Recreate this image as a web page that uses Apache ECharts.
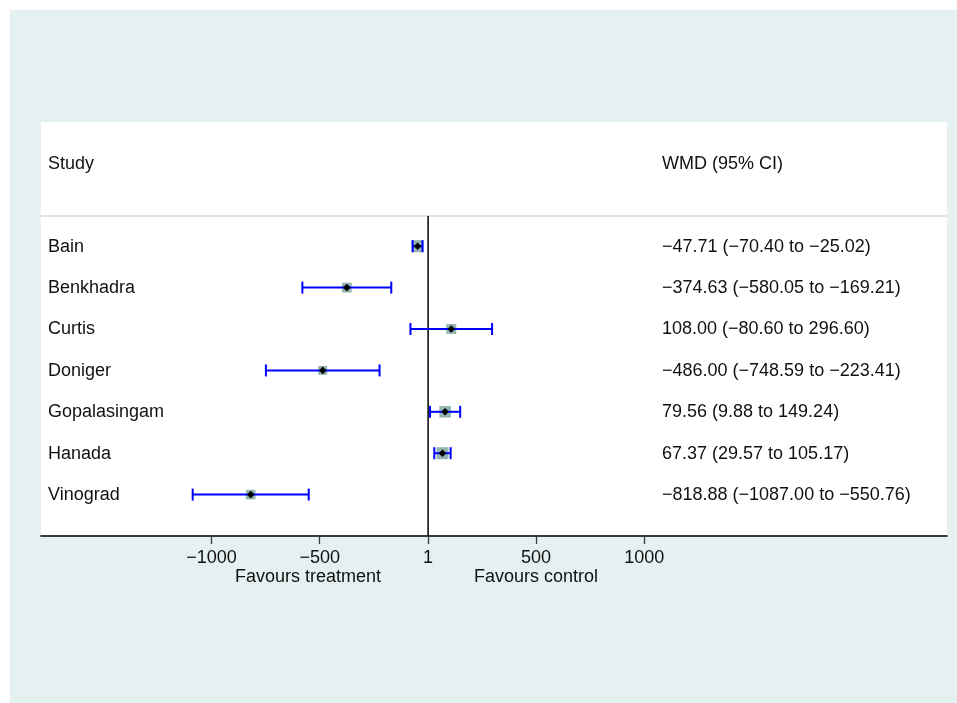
<!DOCTYPE html>
<html>
<head>
<meta charset="utf-8">
<script src="https://cdn.jsdelivr.net/npm/echarts@6/dist/echarts.min.js"></script>
<style>
html,body{margin:0;padding:0;background:#ffffff;}
#bg{position:absolute;left:10px;top:10px;width:947px;height:693px;background:#e5f0f0;}
#chart{position:absolute;left:0;top:0;width:957px;height:703px;}
</style>
</head>
<body>
<div id="bg"></div>
<div id="chart"></div>
<script>
// ---- data ----
const studies = ['Bain','Benkhadra','Curtis','Doniger','Gopalasingam','Hanada','Vinograd'];
const wmd   = [-47.71, -374.63, 108.00, -486.00, 79.56, 67.37, -818.88];
const lower = [-70.40, -580.05, -80.60, -748.59, 9.88, 29.57, -1087.00];
const upper = [-25.02, -169.21, 296.60, -223.41, 149.24, 105.17, -550.76];
const weights = [19.5, 12.5, 13.0, 10.5, 17.5, 19.0, 12.0]; // estimated relative weights (box size)
const tickValues = [-1000, -500, 1, 500, 1000];
const headerLeft = 'Study';
const headerRight = 'WMD (95% CI)';
const favoursLeft = 'Favours treatment';
const favoursRight = 'Favours control';

// ---- helpers ----
const FONT = '"Liberation Sans", Arial, Helvetica, sans-serif';
const TXT = '#111111';
const fmt = v => v.toFixed(2).replace('-', '\u2212');
const ciText = studies.map((s, i) => fmt(wmd[i]) + ' (' + fmt(lower[i]) + ' to ' + fmt(upper[i]) + ')');

const rowData = studies.map((s, i) => [i, wmd[i], lower[i], upper[i], weights[i]]);
const textData = [[-2, headerLeft, headerRight]].concat(studies.map((s, i) => [i, s, ciText[i]]));

function renderRow(params, api) {
  const i = api.value(0);
  const pE = api.coord([api.value(1), i]);
  const pL = api.coord([api.value(2), i]);
  const pH = api.coord([api.value(3), i]);
  const y = pE[1];
  const side = 2.75 * Math.sqrt(api.value(4));
  const cap = 6, d = 3.8;
  return {
    type: 'group',
    children: [
      {type: 'rect', shape: {x: pE[0] - side / 2, y: y - side / 2, width: side, height: side}, style: {fill: '#93b4b1'}},
      {type: 'line', shape: {x1: pL[0], y1: y, x2: pH[0], y2: y}, style: {stroke: '#0000ff', lineWidth: 2}},
      {type: 'line', shape: {x1: pL[0], y1: y - cap, x2: pL[0], y2: y + cap}, style: {stroke: '#0000ff', lineWidth: 2}},
      {type: 'line', shape: {x1: pH[0], y1: y - cap, x2: pH[0], y2: y + cap}, style: {stroke: '#0000ff', lineWidth: 2}},
      {type: 'polygon', shape: {points: [[pE[0], y - d], [pE[0] + d, y], [pE[0], y + d], [pE[0] - d, y]]}, style: {fill: '#000'}}
    ]
  };
}

function renderText(params, api) {
  const i = api.value(0);
  const y = api.coord([0, i])[1] + 0.5;
  const cs = params.coordSys;
  const item = textData[params.dataIndex];
  return {
    type: 'group',
    children: [
      {type: 'text', x: cs.x + 7, y: y, style: {text: item[1], font: '18px ' + FONT, fill: TXT, textVerticalAlign: 'middle', textAlign: 'left'}},
      {type: 'text', x: cs.x + 621, y: y, style: {text: item[2], font: '18px ' + FONT, fill: TXT, textVerticalAlign: 'middle', textAlign: 'left'}}
    ]
  };
}

function renderFrame(params, api) {
  const cs = params.coordSys;
  const top = api.coord([1, -0.73]);
  const bot = api.coord([1, 7]);
  return {
    type: 'group',
    children: [
      {type: 'line', shape: {x1: cs.x, y1: top[1], x2: cs.x + cs.width, y2: top[1]}, style: {stroke: '#c8c8c8', lineWidth: 1.2}},
      {type: 'line', shape: {x1: top[0], y1: top[1], x2: bot[0], y2: bot[1]}, style: {stroke: '#000', lineWidth: 1.5}}
    ]
  };
}

const chart = echarts.init(document.getElementById('chart'), null, {renderer: 'canvas'});
chart.setOption({
  animation: false,
  backgroundColor: 'transparent',
  grid: {left: 41, right: 10, top: 122, bottom: 167, show: true, backgroundColor: '#ffffff', borderWidth: 0},
  xAxis: {
    type: 'value', min: -1788, max: 2399, position: 'bottom',
    splitLine: {show: false},
    axisLine: {onZero: false, lineStyle: {color: '#3a3a3a', width: 1.8}},
    axisTick: {customValues: tickValues, length: 8, lineStyle: {color: '#3a3a3a', width: 1.3}},
    axisLabel: {customValues: tickValues, margin: 13, fontSize: 18, fontFamily: FONT, color: TXT,
      formatter: v => String(v).replace('-', '\u2212')}
  },
  yAxis: {type: 'value', inverse: true, min: -3, max: 7, show: false},
  graphic: [
    {type: 'text', x: 308, y: 577, style: {text: favoursLeft, font: '18px ' + FONT, fill: TXT, textAlign: 'center', textVerticalAlign: 'middle'}},
    {type: 'text', x: 536, y: 577, style: {text: favoursRight, font: '18px ' + FONT, fill: TXT, textAlign: 'center', textVerticalAlign: 'middle'}}
  ],
  series: [
    {type: 'custom', renderItem: renderFrame, data: [[0, 0]], clip: false, silent: true, z: 1},
    {type: 'custom', renderItem: renderRow, data: rowData, encode: {x: [1, 2, 3], y: 0}, clip: false, z: 2},
    {type: 'custom', renderItem: renderText, data: textData.map(r => [r[0]]), encode: {y: 0}, clip: false, silent: true, z: 3}
  ]
});
</script>
</body>
</html>
